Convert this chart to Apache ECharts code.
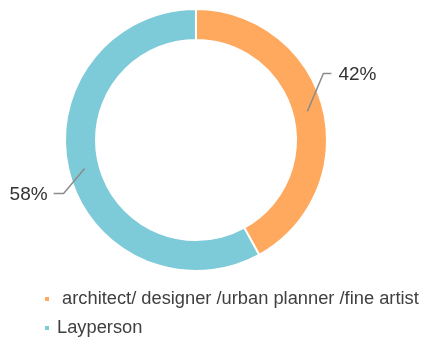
<!DOCTYPE html>
<html>
<head>
<meta charset="utf-8">
<script src="https://cdn.jsdelivr.net/npm/echarts@6/dist/echarts.min.js"></script>
<style>
html,body{margin:0;padding:0;background:#fff;}
#chart{width:425px;height:342px;}
</style>
</head>
<body>
<div id="chart"></div>
<script>
// Respondent groups and their shares (%)
const categories = [' architect/ designer /urban planner /fine artist', 'Layperson'];
const shares = [42, 58];
const colors = ['#FFA95F', '#7DCAD8'];

const FONT = 'Liberation Sans, Arial, sans-serif';
const CENTER = [196, 140];
const RADIUS = [100, 131];

// one legend block per row so the entries stack on the left
function legendRow(name, top) {
  return {
    left: 43,
    top: top,
    padding: 0,
    itemWidth: 6,
    itemHeight: 6,
    icon: 'rect',
    textStyle: { fontFamily: FONT, fontSize: 18.3, color: '#404040', padding: [0, 0, 0, 2] },
    data: [name]
  };
}

// leader line: start inside the ring, then a slanted run and a short flat tail
function placeLabel(p) {
  const pts = p.labelLinePoints;
  if (!pts) return {};
  const s = pts[0], m = pts[1];
  const len = Math.hypot(m[0] - s[0], m[1] - s[1]) || 1;
  const ux = (m[0] - s[0]) / len, uy = (m[1] - s[1]) / len;
  const a = [s[0] - ux * 16, s[1] - uy * 16];
  const right = ux > 0;
  const bend = right ? [a[0] + 16, a[1] - 38] : [a[0] - 21, a[1] + 25];
  const end = right ? [bend[0] + 8, bend[1]] : [bend[0] - 10, bend[1]];
  return {
    x: end[0] + (right ? 7 : -6),
    y: end[1] + 1,
    align: right ? 'left' : 'right',
    verticalAlign: 'middle',
    labelLinePoints: [a, bend, end]
  };
}

const pieData = categories.map((name, i) => ({ name, value: shares[i] }));

const chart = echarts.init(document.getElementById('chart'));
chart.setOption({
  animation: false,
  color: colors,
  legend: [legendRow(categories[0], 290), legendRow(categories[1], 319)],
  series: [
    {
      // the ring itself
      type: 'pie',
      center: CENTER,
      radius: RADIUS,
      startAngle: 90,
      clockwise: true,
      itemStyle: { borderColor: '#fff', borderWidth: 2 },
      label: { show: false },
      labelLine: { show: false },
      data: pieData
    },
    {
      // clear overlay carrying the percentage labels, so leader lines sit on top of the ring
      type: 'pie',
      center: CENTER,
      radius: RADIUS,
      startAngle: 90,
      clockwise: true,
      silent: true,
      z: 3,
      itemStyle: { color: 'rgba(0,0,0,0)', borderWidth: 0 },
      label: {
        show: true,
        position: 'outside',
        formatter: '{c}%',
        overflow: 'none',
        fontFamily: FONT,
        fontSize: 19,
        color: '#333'
      },
      labelLine: {
        show: true,
        length: 18,
        length2: 8,
        lineStyle: { color: '#8c8c8c', width: 1.5 }
      },
      labelLayout: placeLabel,
      data: pieData
    }
  ]
});
</script>
</body>
</html>
